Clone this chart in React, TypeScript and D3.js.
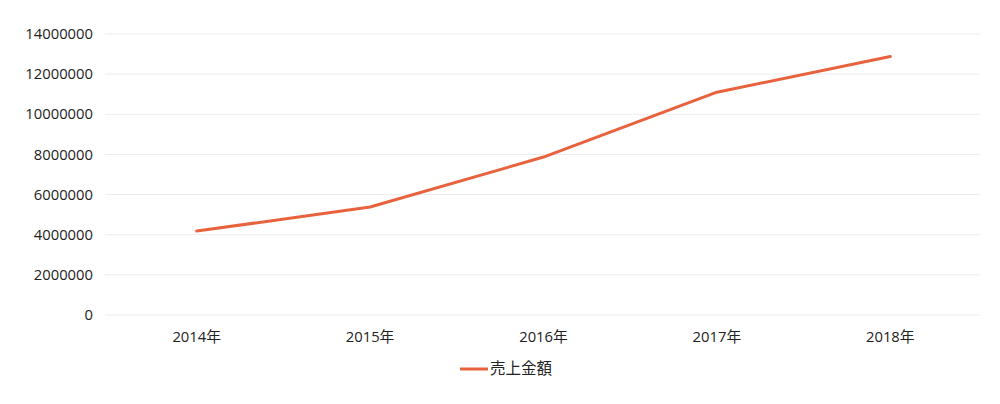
import { useRef, useEffect } from "react";
import * as d3 from "d3";

const years = ["2014年", "2015年", "2016年", "2017年", "2018年"];
const sales = [4180000, 5380000, 7870000, 11100000, 12880000];
const yTicks = [0, 2000000, 4000000, 6000000, 8000000, 10000000, 12000000, 14000000];
const seriesName = "売上金額";

const FONT = "'Open Sans', 'Noto Sans CJK JP', sans-serif";
const LINE_COLOR = "#e8623d";
const TEXT_COLOR = "#222";

export default function App() {
  const svgRef = useRef<SVGSVGElement>(null);

  useEffect(() => {
    drawChart();
  }, []);

  function drawChart() {
    if (!svgRef.current) return;
    const svg = d3.select(svgRef.current);
    svg.selectAll("*").remove();

    const left = 110;
    const right = 977;
    const top = 34;
    const bottom = 315;

    const x = d3.scaleBand<string>().domain(years).range([left, right]);
    const y = d3.scaleLinear().domain([0, 14000000]).range([bottom, top]);

    // gridlines
    svg
      .append("g")
      .selectAll("line")
      .data(yTicks)
      .enter()
      .append("line")
      .attr("x1", 105)
      .attr("x2", 980)
      .attr("y1", (d) => y(d))
      .attr("y2", (d) => y(d))
      .attr("stroke", "#ececec")
      .attr("stroke-width", 1);

    // y labels
    svg
      .append("g")
      .selectAll("text")
      .data(yTicks)
      .enter()
      .append("text")
      .attr("x", 93)
      .attr("y", (d) => y(d))
      .attr("dy", "0.35em")
      .attr("text-anchor", "end")
      .attr("font-family", FONT)
      .attr("font-size", 14.8)
      .attr("fill", TEXT_COLOR)
      .text((d) => String(d));

    // x labels
    svg
      .append("g")
      .selectAll("text")
      .data(years)
      .enter()
      .append("text")
      .attr("x", (d) => (x(d) ?? 0) + x.bandwidth() / 2)
      .attr("y", 337)
      .attr("dy", "0.35em")
      .attr("text-anchor", "middle")
      .attr("font-family", FONT)
      .attr("font-size", 14.8)
      .attr("fill", TEXT_COLOR)
      .text((d) => d);

    const line = d3
      .line<number>()
      .x((_, i) => (x(years[i]) ?? 0) + x.bandwidth() / 2)
      .y((d) => y(d));

    svg
      .append("path")
      .datum(sales)
      .attr("d", line)
      .attr("fill", "none")
      .attr("stroke", LINE_COLOR)
      .attr("stroke-width", 3)
      .attr("stroke-linejoin", "round")
      .attr("stroke-linecap", "round");

    // legend
    const legend = svg.append("g").attr("transform", "translate(460, 369)");
    legend
      .append("line")
      .attr("x1", 0)
      .attr("x2", 28)
      .attr("stroke", LINE_COLOR)
      .attr("stroke-width", 3);
    legend
      .append("text")
      .attr("x", 30)
      .attr("dy", "0.35em")
      .attr("font-family", FONT)
      .attr("font-size", 15.5)
      .attr("fill", TEXT_COLOR)
      .text(seriesName);
  }

  return (
    <svg
      ref={svgRef}
      width={1000}
      height={404}
      style={{ position: "absolute", left: 0, top: 0, background: "#fff" }}
    />
  );
}
